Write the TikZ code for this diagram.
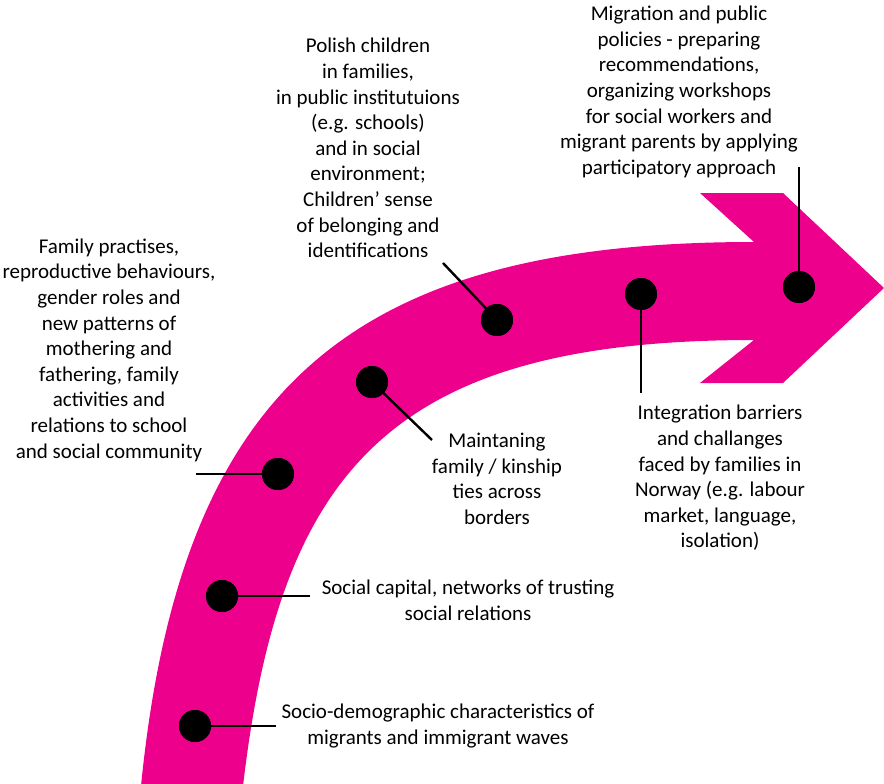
\documentclass[tikz,border=0pt]{standalone}
\usepackage{fontspec}
\setmainfont{Carlito}
\definecolor{arrowpink}{RGB}{236,0,140}
\begin{document}
\begin{tikzpicture}[x=1pt,y=-1pt,
  dot/.style={circle,fill=black,minimum size=32pt,inner sep=0pt},
  leader/.style={line width=2.4pt,black},
  lbl/.style={align=center,inner sep=0pt,font=\fontsize{21}{25.6}\selectfont}]
\useasboundingbox (0,0) rectangle (884,784);
% arrow
\fill[arrowpink]
  (141,786) .. controls (181,384) and (354,242) .. (754,242)
  -- (700,193) -- (783,193) -- (884,288) -- (783,383) -- (700,383) -- (754,340)
  .. controls (390,340) and (280,470) .. (243,786)
  -- cycle;
% dots
\node[dot] (d1) at (195,726) {};
\node[dot] (d2) at (222,596) {};
\node[dot] (d3) at (278,474) {};
\node[dot] (d4) at (372,382) {};
\node[dot] (d5) at (497,320) {};
\node[dot] (d6) at (641,294) {};
\node[dot] (d7) at (799,287) {};
% leader ends
\coordinate (e1) at (276,726);
\coordinate (e2) at (310,596);
\coordinate (e3) at (196,474);
\coordinate (e4) at (432,440);
\coordinate (e5) at (443,263);
\coordinate (e6) at (641,393);
\coordinate (e7) at (799,167);
\draw[leader] (d1.center) -- (e1);
\draw[leader] (d2.center) -- (e2);
\draw[leader] (d3.center) -- (e3);
\draw[leader] (d4.center) -- (e4);
\draw[leader] (d5.center) -- (e5);
\draw[leader] (d6.center) -- (e6);
\draw[leader] (d7.center) -- (e7);
\node[dot] at (d1) {};
\node[dot] at (d2) {};
\node[dot] at (d3) {};
\node[dot] at (d4) {};
\node[dot] at (d5) {};
\node[dot] at (d6) {};
\node[dot] at (d7) {};
% labels
\node[lbl] (t7) at (679,92) {Migration and public\\policies - preparing\\recommendations,\\organizing workshops\\for social workers and\\migrant parents by applying\\participatory approach};
\node[lbl] (t5) at (368,148) {Polish children\\in families,\\in public institutuions\\(e.g. schools)\\and in social\\environment;\\Children’ sense\\of belonging and\\identifications};
\node[lbl] (t3) at (109,350) {Family practises,\\reproductive behaviours,\\gender roles and\\new patterns of\\mothering and\\fathering, family\\activities and\\relations to school\\and social community};
\node[lbl] (t4) at (497,479) {Maintaning\\family / kinship\\ties across\\borders};
\node[lbl] (t6) at (720,478) {Integration barriers\\and challanges\\faced by families in\\Norway (e.g. labour\\market, language,\\isolation)};
\node[lbl] (t2) at (468,600) {Social capital, networks of trusting\\social relations};
\node[lbl] (t1) at (438,726) {Socio-demographic characteristics of\\migrants and immigrant waves};
\end{tikzpicture}
\end{document}
